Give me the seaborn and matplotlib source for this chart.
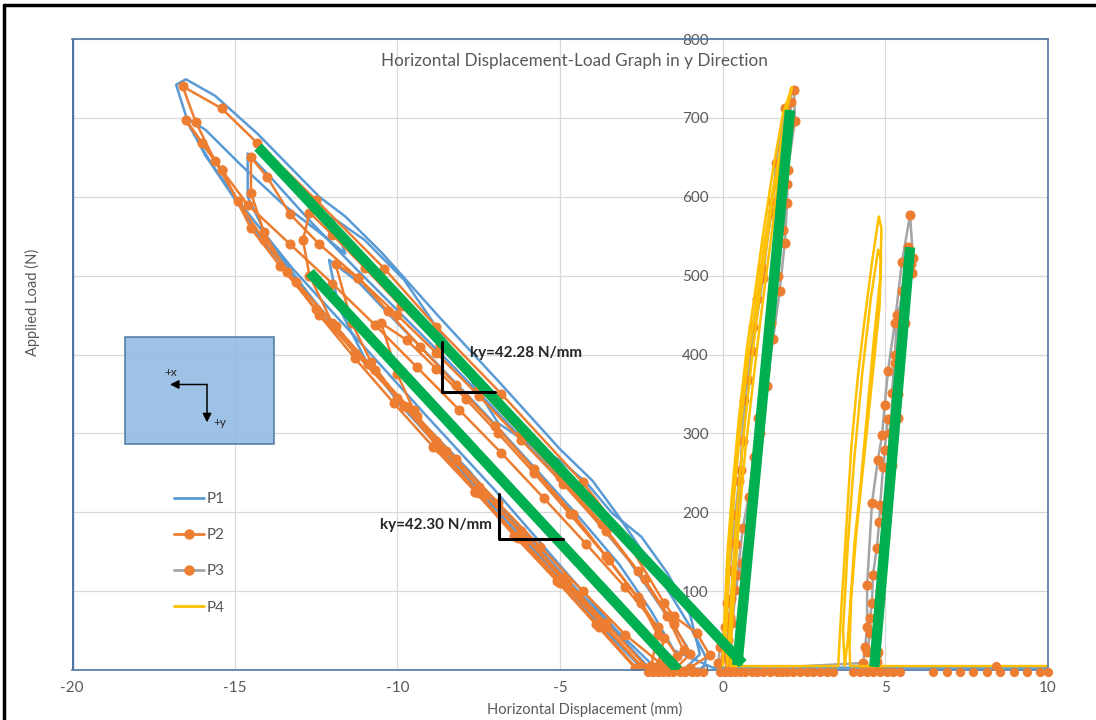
import numpy as np
import pandas as pd
import seaborn as sns
import matplotlib.pyplot as plt
from matplotlib.lines import Line2D
from matplotlib.patches import Rectangle

sns.set_theme(style='white')
plt.rcParams['font.family'] = ['Lato', 'DejaVu Sans']
plt.rcParams['axes.unicode_minus'] = False

# ---- series colours
c1 = '#5B9BD5'
c2 = '#ED7D31'
c3 = '#A5A5A5'
c4 = '#FFC000'
green = '#00B050'

# ---- P1 (blue, no markers)
p1_x = [-1.1, -2.5, -3.8, -5.6, -7.8, -9.9, -12.1, -14.1, -15.6, -16.4, -16.8,
        -16.5, -15.6, -14.3, -12.4, -11.6, -10.5, -8.7, -6.8, -5.0, -4.0, -3.2, -1.9, -1.0, -0.5, -0.6,
        -2.0, -3.3, -4.9, -7.0, -9.1, -11.2, -13.2, -14.8, -15.9, -16.5,
        -15.9, -14.8, -13.5, -12.4, -11.6, -12.0, -11.0, -9.8, -8.3, -6.9, -6.0, -5.0, -4.2, -3.4, -2.5, -1.7, -1.0, -0.7, -1.2,
        -2.2, -3.5, -5.0, -6.6, -8.2, -9.8, -11.2, -12.5, -13.9, -14.6, -14.6,
        -13.9, -12.7, -11.3, -9.9, -8.4, -7.0, -5.6, -4.2, -2.9, -1.9, -1.1, -1.6,
        -2.4, -3.7, -5.2, -6.8, -8.4, -9.9, -11.0, -11.8, -12.1,
        -11.2, -10.0, -8.7, -7.3, -5.9, -4.5, -3.2, -2.2, -1.5, -0.3, 10.0]
p1_y = [0, 3, 57, 146, 253, 342, 444, 542, 634, 690, 742,
        749, 728, 680, 600, 575, 530, 447, 362, 280, 240, 195, 116, 55, 15, 2,
        0, 52, 128, 228, 322, 418, 508, 590, 652, 700,
        685, 640, 590, 555, 528, 574, 545, 495, 405, 313, 288, 266, 238, 199, 169, 123, 70, 20, 0,
        0, 58, 125, 197, 268, 338, 402, 465, 540, 600, 655,
        625, 570, 510, 452, 390, 330, 268, 205, 140, 80, 30, 0,
        0, 58, 125, 196, 268, 336, 395, 460, 520,
        492, 440, 385, 325, 262, 198, 135, 75, 25, 3, 3]

# ---- P2 (orange with markers)
p2_x = [-1.9, -3.0, -4.3, -5.6, -6.9, -8.2, -9.4, -10.7, -11.9, -13.1, -14.1, -14.9, -15.6, -16.2, -16.6,
        -15.4, -14.3, -12.5, -10.4, -8.8, -6.8, -4.3, -3.0, -1.8, -1.5, -0.8, -0.4, -1.0,
        -2.3, -3.6, -4.9, -6.2, -7.5, -8.8, -10.0, -11.3, -12.5, -13.6, -14.5, -15.4, -16.0, -16.5,
        -15.4, -14.6, -13.3, -12.0, -10.7, -9.4, -8.1, -6.8, -5.5, -4.2, -3.0, -2.0, -1.4, -1.7,
        -2.5, -3.7, -5.0, -6.3, -7.6, -8.9, -10.1, -11.3, -12.4, -13.4, -14.1, -14.5, -14.5,
        -14.0, -13.3, -12.4, -11.2, -10.0, -8.8, -7.5, -6.2, -4.9, -3.6, -2.4, -1.5, -1.0, -1.5,
        -2.4, -3.6, -4.8, -6.0, -7.3, -8.5, -9.7, -10.9, -12.0, -12.7, -12.9, -12.7,
        -12.0, -11.0, -9.9, -8.7, -7.5, -6.2, -5.0, -3.7, -2.6, -1.7, -1.2, -1.9,
        -2.6, -3.8, -5.0, -6.3, -7.5, -8.7, -9.8, -10.8, -11.4, -11.9,
        -11.2, -10.3, -9.3, -8.2, -7.0, -5.8, -4.6, -3.5, -2.5, -1.8, -2.0,
        -2.7, -3.9, -5.1, -6.4, -7.6, -8.7, -9.5, -10.0, -10.5,
        -9.7, -8.8, -7.9, -6.9, -5.8, -4.7, -3.6, -2.6, -2.0, -2.2]
p2_y = [8, 45, 100, 156, 212, 268, 322, 380, 436, 492, 545, 595, 645, 695, 740,
        712, 668, 596, 509, 435, 350, 238, 168, 85, 68, 47, 19, 3,
        2, 60, 118, 176, 232, 290, 345, 402, 458, 512, 560, 634, 668, 697,
        634, 590, 540, 490, 438, 384, 330, 275, 218, 160, 105, 55, 18, 2,
        5, 58, 114, 170, 226, 283, 338, 395, 450, 505, 555, 605, 650,
        625, 578, 540, 497, 450, 402, 348, 292, 236, 176, 115, 58, 20, 0,
        0, 55, 110, 165, 222, 278, 333, 388, 440, 500, 545, 580,
        552, 510, 462, 412, 358, 300, 245, 185, 125, 68, 25, 0,
        0, 55, 110, 168, 224, 280, 335, 390, 440, 515,
        497, 455, 410, 362, 310, 255, 198, 140, 85, 40, 5,
        3, 58, 113, 170, 226, 280, 330, 375, 440,
        418, 382, 344, 300, 250, 198, 145, 92, 45, 5]

# ---- P3 (grey line, orange markers)
p3_x = [-0.14, -0.08, 0.07, 0.13, 0.22, 0.29, 0.38, 0.50, 0.62, 0.78, 0.93, 1.05, 1.21, 1.51, 1.64, 1.91, 2.19,
        2.22, 2.00, 1.98, 1.91, 1.75, 1.55, 1.35, 1.15, 0.95, 0.75, 0.59, 0.38, 0.22, 0.16, 0.07, 0.20,
        0.10, 0.25, 0.40, 0.56, 0.65, 0.90, 1.24, 1.51, 1.85, 2.10,
        2.05, 1.98, 1.85, 1.70, 1.50, 1.30, 1.10, 0.95, 0.80, 0.62, 0.45, 0.30, 0.20, 0.30,
        4.32, 4.38, 4.44, 4.44, 4.59, 4.77, 4.90, 4.98, 5.08, 5.29, 5.51, 5.76,
        5.85, 5.82, 5.35, 5.29, 5.20, 5.39, 5.08, 4.98, 4.93, 4.84, 4.81, 4.74, 4.62, 4.59, 4.53, 4.53, 4.44, 4.77, 4.74, 4.60,
        4.70, 4.85, 5.00, 5.15, 5.30, 5.51, 5.69,
        5.80, 5.60, 5.40, 5.20, 5.00, 4.85, 4.75, 4.80]
p3_y = [9, 29, 55, 85, 127, 161, 196, 240, 290, 368, 435, 470, 510, 580, 643, 712, 736,
        696, 634, 592, 542, 480, 420, 360, 300, 240, 180, 136, 101, 67, 38, 16, 3,
        20, 90, 160, 253, 342, 405, 497, 593, 660, 720,
        690, 616, 558, 500, 440, 380, 320, 270, 220, 180, 120, 60, 10, 0,
        9, 29, 55, 108, 212, 266, 298, 336, 379, 440, 517, 577,
        522, 503, 450, 389, 351, 319, 318, 279, 257, 209, 188, 155, 121, 85, 66, 47, 23, 23, 10, 2,
        5, 100, 200, 300, 400, 480, 536,
        515, 440, 350, 260, 170, 90, 20, 0]

# zero-load readings along the bottom (P3 markers)
p3_zero_x = [-2.29, -2.13, -1.98, -1.83, -1.67, -1.52, -1.31, -1.16, -0.95, -0.80, -0.60,
             -0.08, 0.07, 0.22, 0.38, 0.53, 0.69, 0.89, 1.05, 1.25, 1.45, 1.66, 1.81, 1.97, 2.17,
             2.38, 2.58, 2.79, 2.99, 3.20, 3.40, 4.01, 4.22, 4.43, 4.63, 4.84, 5.04, 5.24, 5.45,
             6.47, 6.89, 7.29, 7.70, 8.12, 8.52, 8.94, 9.35, 9.75, 10.0]
p3_zero_y = [-2] * len(p3_zero_x)
p3_extra_x = [8.4]
p3_extra_y = [5]

# ---- P4 (yellow, no markers)
p4_x = [0.00, 0.05, 0.15, 0.30, 0.50, 0.75, 1.00, 1.25, 1.55, 1.85, 2.13,
        1.98, 1.80, 1.60, 1.40, 1.15, 0.90, 0.65, 0.45, 0.30, 0.20, 0.15,
        0.10, 0.20, 0.35, 0.55, 0.80, 1.05, 1.30, 1.55, 1.75,
        1.65, 1.40, 1.15, 0.95, 0.70, 0.50, 0.35, 0.25, 0.25,
        3.55, 3.65, 3.80, 3.95, 4.15, 4.35, 4.60, 4.80, 4.88, 4.85, 4.65, 4.45, 4.25, 4.05, 3.95, 3.85, 3.75,
        3.70, 3.85, 4.05, 4.30, 4.55, 4.78, 4.87, 4.82, 4.60, 4.35, 4.10, 3.95, 3.90, 3.92, 10.0]
p4_y = [5, 60, 150, 230, 320, 410, 480, 555, 635, 705, 739,
        712, 670, 615, 555, 480, 395, 300, 210, 120, 40, 5,
        40, 130, 220, 310, 400, 470, 545, 610, 650,
        600, 520, 440, 370, 280, 190, 100, 30, 5,
        5, 80, 180, 280, 370, 440, 520, 575, 560, 500, 420, 330, 240, 160, 100, 40, 5,
        50, 160, 270, 380, 470, 533, 520, 460, 370, 270, 170, 90, 30, 5, 5]

# ---- fitted stiffness lines (green)
fit_x = [[-14.28, 0.62], [-12.69, -1.37], [0.45, 2.07], [4.66, 5.76]]
fit_y = [[663, 8], [504, 0], [6, 710], [4, 536]]

fig = plt.figure(figsize=(10.96, 7.2), dpi=100)
ax = fig.add_axes([0.0657, 0.0694, 0.8905, 0.8764])


def draw(xs, ys, color, **kw):
    sns.lineplot(x=xs, y=ys, sort=False, estimator=None, ax=ax, color=color,
                 legend=False, lw=1.8, **kw)


draw(p1_x, p1_y, c1)
draw(p2_x, p2_y, c2, marker='o', markersize=6.5, markerfacecolor=c2, markeredgecolor=c2)
draw(p3_x, p3_y, c3, marker='o', markersize=6.5, markerfacecolor=c2, markeredgecolor=c2)
draw(p4_x, p4_y, c4)
sns.scatterplot(x=p3_zero_x + p3_extra_x, y=p3_zero_y + p3_extra_y, ax=ax, color=c2,
                s=44, edgecolor=c2, linewidth=0, clip_on=False, zorder=4, legend=False)

for fx, fy in zip(fit_x, fit_y):
    ax.plot(fx, fy, color=green, lw=7.5, solid_capstyle='butt', zorder=5)

# slope markers and labels
ax.plot([-8.63, -8.63, -7.0], [416, 352, 352], color='black', lw=2.2, zorder=6)
ax.text(-7.76, 402, 'ky=42.28 N/mm', fontsize=11, fontweight='bold', va='center', zorder=6)
ax.plot([-6.87, -6.87, -4.91], [223, 166, 166], color='black', lw=2.2, zorder=6)
ax.text(-10.53, 184, 'ky=42.30 N/mm', fontsize=11, fontweight='bold', va='center', zorder=6)

# direction sketch
ax.add_patch(Rectangle((-18.37, 286), 4.58, 136, facecolor='#8DB8E2', alpha=0.85,
                       edgecolor='#41719C', lw=1.2, zorder=6))
ax.annotate('', xy=(-16.99, 362), xytext=(-15.85, 362), zorder=7,
            arrowprops=dict(arrowstyle='-|>', color='black', lw=1.1, mutation_scale=13, shrinkA=0, shrinkB=0))
ax.annotate('', xy=(-15.85, 314), xytext=(-15.85, 362), zorder=7,
            arrowprops=dict(arrowstyle='-|>', color='black', lw=1.1, mutation_scale=13, shrinkA=0, shrinkB=0))
ax.text(-16.95, 377, '+x', fontsize=8.5, ha='center', va='center', zorder=7)
ax.text(-15.45, 314, '+y', fontsize=8.5, ha='center', va='center', zorder=7)

# axes styling
ax.set_xlim(-20, 10)
ax.set_ylim(0, 800)
ax.set_xticks([-20, -15, -10, -5, 0, 5, 10])
ax.set_yticks(range(0, 900, 100))
ax.grid(True, color='#D9D9D9', lw=0.9)
ax.set_axisbelow(True)
ax.tick_params(axis='both', length=0, labelsize=11, labelcolor='#595959')
ax.tick_params(axis='x', pad=8)
ax.tick_params(axis='y', pad=10)
ax.spines['left'].set_position(('data', 0))
ax.spines['left'].set_color('none')
for s in ['top', 'right', 'bottom']:
    ax.spines[s].set_color('#4E76A3')
    ax.spines[s].set_linewidth(1.2)
ax.axvline(-20, color='#4E76A3', lw=2.4, zorder=3)

ax.set_xlabel('Horizontal Displacement (mm)', fontsize=10.5, color='#595959')
ax.set_ylabel('Applied Load (N)', fontsize=10.5, color='#595959')
ax.xaxis.set_label_coords(0.525, -0.05)
ax.yaxis.set_label_coords(-0.033, 0.583)
ax.text(0.515, 0.965, 'Horizontal Displacement-Load Graph in y Direction', transform=ax.transAxes,
        ha='center', va='center', fontsize=12.3, color='#595959')

handles = [Line2D([], [], color=c1, lw=2),
           Line2D([], [], color=c2, lw=2, marker='o', ms=6.5, mfc=c2, mec=c2),
           Line2D([], [], color=c3, lw=2, marker='o', ms=6.5, mfc=c2, mec=c2),
           Line2D([], [], color=c4, lw=2)]
ax.legend(handles, ['P1', 'P2', 'P3', 'P4'], loc='upper left', bbox_to_anchor=(0.105, 0.282),
          frameon=False, fontsize=11, labelcolor='#595959', handlelength=1.9,
          handletextpad=0.2, labelspacing=1.45, borderpad=0, borderaxespad=0)

# outer frame: top and left edges only
fig.add_artist(Line2D([0.004, 1.0], [0.993, 0.993], transform=fig.transFigure, color='black', lw=2.5))
fig.add_artist(Line2D([0.004, 0.004], [0.0, 0.993], transform=fig.transFigure, color='black', lw=2.5))

fig.savefig('out.png', dpi=100)
